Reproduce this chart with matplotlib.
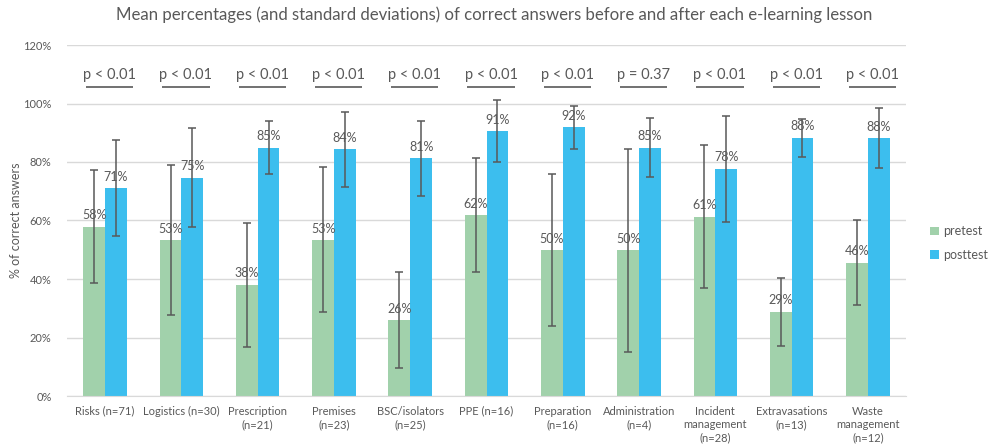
import numpy as np
import matplotlib
matplotlib.use("Agg")
import matplotlib.pyplot as plt

plt.rcParams['font.family'] = ['Lato', 'DejaVu Sans']

categories = ["Risks (n=71)", "Logistics (n=30)", "Prescription\n(n=21)", "Premises\n(n=23)",
              "BSC/isolators\n(n=25)", "PPE (n=16)", "Preparation\n(n=16)", "Administration\n(n=4)",
              "Incident\nmanagement\n(n=28)", "Extravasations\n(n=13)", "Waste\nmanagement\n(n=12)"]
pretest = [57.9, 53.3, 38.1, 53.4, 26.0, 61.8, 49.9, 49.9, 61.3, 28.8, 45.6]
pretest_sd = [19.4, 25.7, 21.2, 24.8, 16.4, 19.5, 26.0, 34.7, 24.5, 11.6, 14.4]
posttest = [71.1, 74.7, 84.9, 84.3, 81.2, 90.6, 91.9, 84.9, 77.7, 88.3, 88.2]
posttest_sd = [16.4, 16.8, 9.1, 12.7, 12.8, 10.6, 7.3, 10.0, 18.1, 6.5, 10.4]
pvalues = ["p < 0.01"] * 7 + ["p = 0.37"] + ["p < 0.01"] * 3

grey = "#595959"
green = "#A1D1AB"
blue = "#3CBEEE"

fig = plt.figure(figsize=(9.88, 4.44), dpi=100)
ax = fig.add_axes([67 / 988, 48 / 444, (906 - 67) / 988, (396 - 45) / 444])

x = np.arange(len(categories))
w = 0.286
err_kw = dict(ecolor=grey, elinewidth=1.1, capsize=3, capthick=1.1)
b1 = ax.bar(x - w / 2, pretest, w, yerr=pretest_sd, color=green, label="pretest", error_kw=err_kw, zorder=2)
b2 = ax.bar(x + w / 2, posttest, w, yerr=posttest_sd, color=blue, label="posttest", error_kw=err_kw, zorder=2)

for rects, vals in ((b1, pretest), (b2, posttest)):
    for r, v in zip(rects, vals):
        ax.text(r.get_x() + r.get_width() / 2, v + 1.8, "%d%%" % round(v), ha="center", va="bottom",
                fontsize=9, color=grey, zorder=3)

# significance labels with underline
for i, p in enumerate(pvalues):
    ax.text(i + 0.06, 107.5, p, ha="center", va="bottom", fontsize=10.5, color=grey)
    ax.plot([i + 0.06 - 0.31, i + 0.06 + 0.31], [105.6, 105.6], color=grey, lw=1.2, solid_capstyle="butt")

ax.set_xlim(-0.5, len(categories) - 0.5)
ax.set_ylim(0, 120)
ax.set_yticks(np.arange(0, 121, 20))
ax.set_yticklabels(["%d%%" % t for t in range(0, 121, 20)])
ax.set_xticks(x)
ax.set_xticklabels(categories, linespacing=1.25)
ax.tick_params(axis="both", length=0, colors=grey, labelsize=8)
ax.tick_params(axis="x", pad=7)
ax.tick_params(axis="y", pad=11)
ax.grid(axis="y", color="#D9D9D9", lw=1, zorder=0)
for s in ("top", "right", "left"):
    ax.spines[s].set_visible(False)
ax.spines["bottom"].set_color("#D9D9D9")
ax.set_axisbelow(True)

ax.set_ylabel("% of correct answers", color=grey, fontsize=9, labelpad=1)

fig.suptitle("Mean percentages (and standard deviations) of correct answers before and after each e-learning lesson",
             x=0.5, y=0.985, fontsize=12.1, color=grey)

fig.legend(handles=[b1, b2], labels=["pretest", "posttest"], loc="center left",
           bbox_to_anchor=(919 / 988, 1 - 243 / 444), frameon=False, fontsize=9,
           labelcolor=grey, handlelength=0.7, handleheight=0.7, handletextpad=0.3, labelspacing=0.9)

fig.savefig("out.png", dpi=100)
